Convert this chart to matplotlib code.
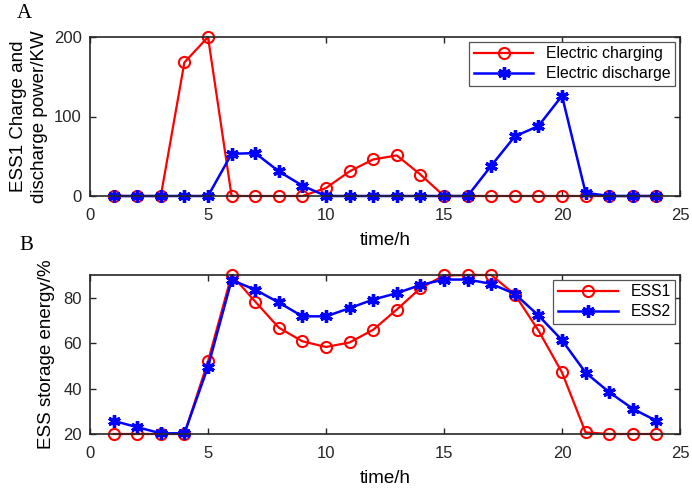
import matplotlib.pyplot as plt

hours = list(range(1, 25))

# panel A: ESS1 charge / discharge power (kW)
charging = [0, 0, 0, 168, 200, 0, 0, 0, 0, 10, 31, 46, 51, 27,
            0, 0, 0, 0, 0, 0, 0, 0, 0, 0]
discharge = [0, 0, 0, 0, 0, 53, 54, 31, 13, 0, 0, 0, 0, 0,
             0, 0, 38, 75, 88, 126, 4, 0, 0, 0]

# panel B: storage energy (%)
ess1 = [20, 20, 20, 20, 52, 90, 78.3, 66.8, 60.8, 58.3, 60.3, 65.9, 74.8, 84.2,
        89.8, 90, 90, 81.4, 65.6, 47.1, 20.7, 20, 20, 20]
ess2 = [25.8, 23, 20.3, 20.3, 49.6, 87.8, 83.5, 77.9, 71.8, 71.8, 75.4, 79.2, 82, 85.6,
        88, 88, 86.1, 81.7, 72.2, 61.3, 47, 38.4, 31.1, 25.8]

plt.rcParams['font.family'] = ['Liberation Sans', 'DejaVu Sans']
plt.rcParams['font.size'] = 12

fig = plt.figure(figsize=(6.92, 4.88), dpi=100)
W, H = 692, 488
axA = fig.add_axes([90 / W, 1 - 196 / H, 590 / W, 159 / H])
axB = fig.add_axes([90 / W, 1 - 434 / H, 590 / W, 159 / H])

star = (6, 2, 0)
red_kw = dict(color='#ff0000', lw=1.6, marker='o', ms=8, mfc='none', mew=1.5,
              clip_on=False)
blue_kw = dict(color='#0000ff', lw=1.8, marker=star, ms=9, mew=2.4, clip_on=False)

axA.plot(hours, charging, label='Electric charging', **red_kw)
axA.plot(hours, discharge, label='Electric discharge', **blue_kw)
axA.set_ylim(0, 200)
axA.set_yticks([0, 100, 200])
axA.set_ylabel('ESS1 Charge and\ndischarge power/KW', fontsize=13.5,
               labelpad=4, linespacing=1.3)

axB.plot(hours, ess1, label='ESS1', **red_kw)
axB.plot(hours, ess2, label='ESS2', **blue_kw)
axB.set_ylim(20, 90)
axB.set_yticks([20, 40, 60, 80])
axB.set_ylabel('ESS storage energy/%', fontsize=13.5, labelpad=6)

for ax in (axA, axB):
    ax.set_xlim(0, 25)
    ax.set_xticks([0, 5, 10, 15, 20, 25])
    ax.set_xlabel('time/h', fontsize=13.5, labelpad=6)
    ax.tick_params(direction='in', top=True, right=True, length=4, width=1,
                   pad=6, colors='#262626', labelcolor='#262626')
    ax.tick_params(axis='x', pad=9)
    for s in ax.spines.values():
        s.set_linewidth(1.2)
        s.set_color('#262626')
    leg = ax.legend(loc='upper right', borderaxespad=0.3, fancybox=False,
                    framealpha=1, edgecolor='#555555', handlelength=3.8,
                    borderpad=0.3, labelspacing=0.3, fontsize=11.3)
    leg.get_frame().set_linewidth(0.9)
    leg.set_zorder(5)

fig.text(24 / W, 1 - 14 / H, 'A', family='Liberation Serif', fontsize=15,
         ha='center', va='center')
fig.text(26 / W, 1 - 245 / H, 'B', family='Liberation Serif', fontsize=15,
         ha='center', va='center')

fig.savefig('out.png', dpi=100)
